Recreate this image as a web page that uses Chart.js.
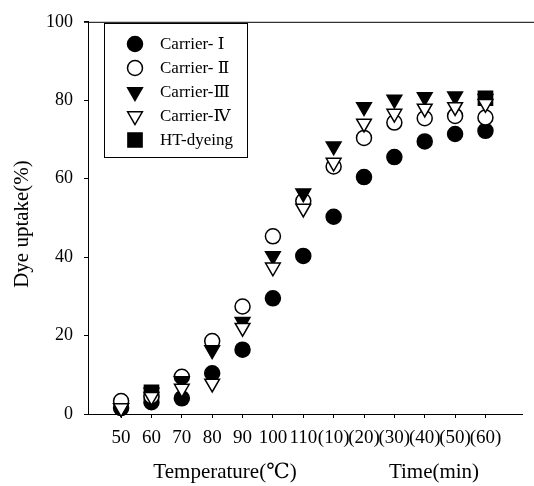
<!DOCTYPE html>
<html>
<head>
<meta charset="utf-8">
<script src="https://cdn.jsdelivr.net/npm/chart.js@4.4.0/dist/chart.umd.min.js"></script>
<style>
	html, body { margin: 0; padding: 0; background: #fff; }
</style>
</head>
<body>
<canvas id="myChart" width="534" height="486"></canvas>
<script>
// x categories: temperature steps, then holding time at top temp
const tickLabels = ['50', '60', '70', '80', '90', '100', '110', '(10)', '(20)', '(30)', '(40)', '(50)', '(60)'];
const yTicks = [0, 20, 40, 60, 80, 100];

// dye uptake (%)
const carrier1 = [1.5, 3, 4, 10.4, 16.4, 29.5, 40.3, 50.3, 60.4, 65.5, 69.5, 71.4, 72.2];
const carrier2 = [3.3, 4.5, 9.5, 18.6, 27.4, 45.3, 54.3, 63.1, 70.4, 74.3, 75.4, 76, 75.6];
const carrier3 = [1.5, 5.5, 8.4, 16.3, 23.5, 40.3, 56.3, 68.3, 78.3, 80.2, 80.8, 81, 80.4];
const carrier4 = [1.5, 4.4, 6.5, 7.8, 22, 37.4, 52.4, 64.1, 74.1, 76.6, 77.9, 78.3, 79.1];
const htDyeing = [null, 5.5, null, null, null, null, null, null, null, null, null, null, 80.5];

const serif = "'Liberation Serif', 'Times New Roman', 'DejaVu Serif', serif";

function toPoints(arr) {
	return arr.map((v, i) => ({ x: i, y: v }));
}

const series = [
	{ label: 'Carrier- Ⅰ', data: carrier1, style: 'circle', rot: 0, r: 7.5, fill: '#000', order: 3 },
	{ label: 'Carrier- Ⅱ', data: carrier2, style: 'circle', rot: 0, r: 7.5, fill: '#fff', order: 2 },
	{ label: 'Carrier-Ⅲ', data: carrier3, style: 'triangle', rot: 180, r: 8.5, fill: '#000', order: 1 },
	{ label: 'Carrier-Ⅳ', data: carrier4, style: 'triangle', rot: 180, r: 8.5, fill: '#fff', order: 0 },
	{ label: 'HT-dyeing', data: htDyeing, style: 'rect', rot: 0, r: 10, fill: '#000', order: 4 },
];

const extras = {
	id: 'extras',
	afterDraw(chart) {
		const ctx = chart.ctx;
		const area = chart.chartArea;
		ctx.save();
		// top frame line
		ctx.strokeStyle = '#000';
		ctx.lineWidth = 1;
		ctx.beginPath();
		ctx.moveTo(area.left - 4, area.top + 0.5);
		ctx.lineTo(chart.width, area.top + 0.5);
		ctx.stroke();

		// axis titles
		ctx.fillStyle = '#000';
		ctx.font = '21px ' + serif;
		ctx.textAlign = 'center';
		ctx.textBaseline = 'middle';
		ctx.fillText('Temperature(℃)', 225, 472);
		ctx.fillText('Time(min)', 434, 472);
		ctx.save();
		ctx.translate(22, 224);
		ctx.rotate(-Math.PI / 2);
		ctx.fillText('Dye uptake(%)', 0, 0);
		ctx.restore();

		// legend box
		ctx.lineWidth = 1;
		ctx.strokeRect(104.5, 23.5, 143, 134);
		ctx.font = '17px ' + serif;
		ctx.textAlign = 'left';
		series.forEach((s, i) => {
			const y = 44 + i * 24;
			ctx.fillStyle = s.fill;
			ctx.strokeStyle = '#000';
			ctx.lineWidth = 1.5;
			Chart.helpers.drawPoint(ctx, { pointStyle: s.style, rotation: s.rot, radius: s.r, borderWidth: 1.5 }, 135, y);
			ctx.fillStyle = '#000';
			ctx.fillText(s.label, 160, y + 1);
		});
		ctx.restore();
	},
};

const ctx = document.getElementById('myChart').getContext('2d');
const myChart = new Chart(ctx, {
	type: 'scatter',
	data: {
		datasets: series.map((s) => ({
			label: s.label,
			data: toPoints(s.data),
			pointStyle: s.style,
			rotation: s.rot,
			pointRadius: s.r,
			pointBackgroundColor: s.fill,
			pointBorderColor: '#000',
			pointBorderWidth: 1.5,
			showLine: false,
			clip: false,
			order: s.order,
		})),
	},
	options: {
		responsive: false,
		devicePixelRatio: 1,
		animation: false,
		layout: { padding: { top: 15, right: 0, left: 0, bottom: 0 } },
		plugins: {
			legend: { display: false },
			tooltip: { enabled: false },
		},
		scales: {
			x: {
				type: 'linear',
				min: -1.09,
				max: 13.22,
				afterFit: (scale) => { scale.height = 72; },
				afterBuildTicks: (scale) => {
					scale.ticks = tickLabels.map((_, i) => ({ value: i }));
				},
				ticks: {
					autoSkip: false,
					maxRotation: 0,
					padding: 9,
					color: '#000',
					font: { family: serif, size: 19 },
					callback: (v) => tickLabels[v],
				},
				grid: { drawOnChartArea: false, tickLength: 4, color: '#000' },
				border: { color: '#000', width: 1 },
			},
			y: {
				min: 0,
				max: 100,
				afterFit: (scale) => { scale.width = 88; },
				afterBuildTicks: (scale) => {
					scale.ticks = yTicks.map((v) => ({ value: v }));
				},
				ticks: {
					padding: 11,
					color: '#000',
					font: { family: serif, size: 18 },
				},
				grid: { drawOnChartArea: false, tickLength: 4, color: '#000' },
				border: { color: '#000', width: 1 },
			},
		},
	},
	plugins: [extras],
});
</script>
</body>
</html>
